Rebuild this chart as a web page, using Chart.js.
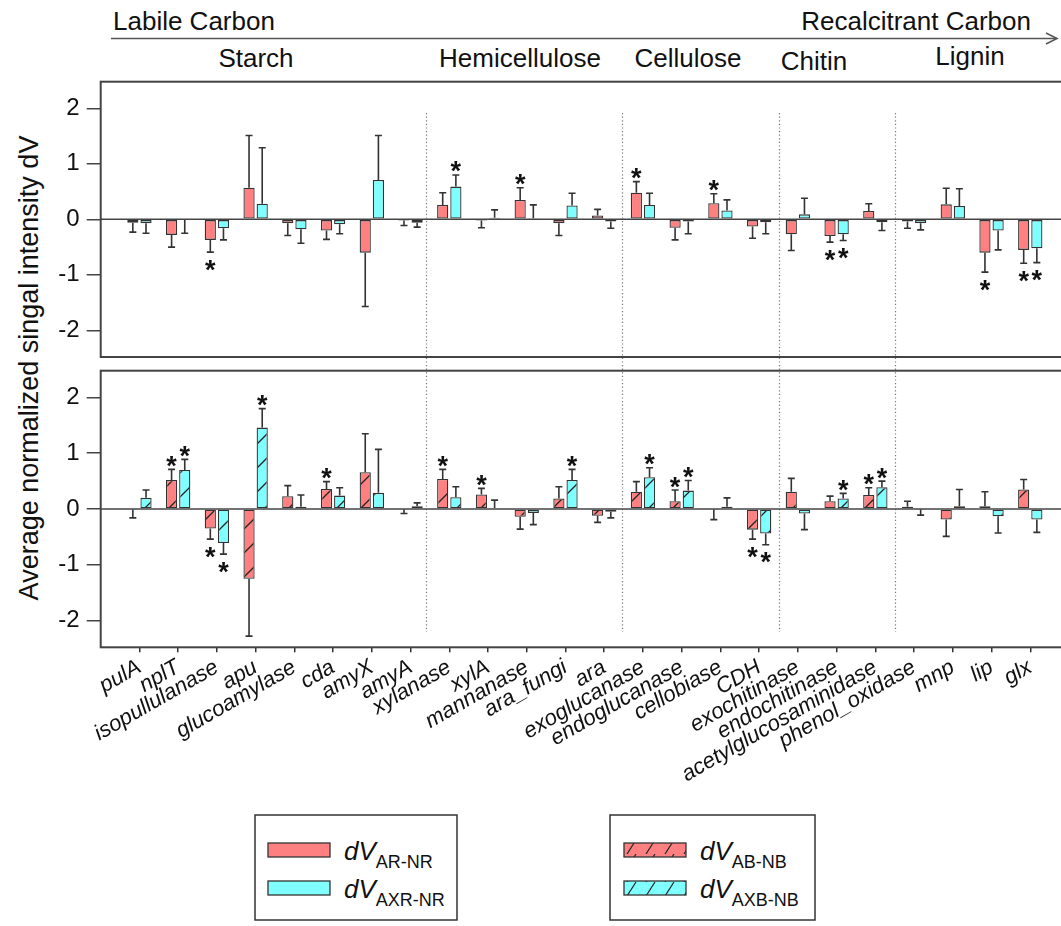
<!DOCTYPE html>
<html><head><meta charset="utf-8">
<script src="https://cdn.jsdelivr.net/npm/chart.js@4.4.1/dist/chart.umd.min.js"></script>
<style>
html,body{margin:0;padding:0;background:#fff;overflow:hidden;}
body{width:1061px;height:926px;position:relative;font-family:"Liberation Sans",Arial,sans-serif;}
canvas{position:absolute;left:0;}
#c1{top:70px;}
#c2{top:365px;}
#deco{position:absolute;left:0;top:0;}
</style></head><body>
<svg id="deco" width="1061" height="926" font-family="Liberation Sans, Arial, sans-serif" fill="#111">
  <defs>
    <pattern id="hR" x="624" y="0" width="19" height="14" patternUnits="userSpaceOnUse">
      <rect width="19" height="14" fill="#FF8080"/>
      <line x1="3" y1="14" x2="12" y2="0" stroke="#222" stroke-width="1.2"/>
    </pattern>
    <pattern id="hX" x="624" y="0" width="19" height="14" patternUnits="userSpaceOnUse">
      <rect width="19" height="14" fill="#80FFFF"/>
      <line x1="3" y1="14" x2="12" y2="0" stroke="#222" stroke-width="1.2"/>
    </pattern>
  </defs>
  <text x="113" y="30" font-size="26">Labile Carbon</text>
  <text x="1031" y="30" font-size="26" text-anchor="end">Recalcitrant Carbon</text>
  <line x1="111" y1="38.5" x2="1057" y2="38.5" stroke="#555" stroke-width="1.5"/>
  <polyline points="1046,33 1057,38.5 1046,44" fill="none" stroke="#555" stroke-width="1.5"/>
  <g font-size="26" text-anchor="middle">
    <text x="256" y="67">Starch</text>
    <text x="520" y="67">Hemicellulose</text>
    <text x="688" y="67">Cellulose</text>
    <text x="814" y="70">Chitin</text>
    <text x="970" y="65">Lignin</text>
  </g>
  <text transform="translate(38,368) rotate(-90)" font-size="27" text-anchor="middle">Average normalized singal intensity dV</text>

  <rect x="255" y="815" width="202" height="105" fill="none" stroke="#333" stroke-width="1.5"/>
  <rect x="268" y="843" width="62" height="14" fill="#FF8080" stroke="#333" stroke-width="1.3"/>
  <rect x="268" y="881" width="62" height="14" fill="#80FFFF" stroke="#333" stroke-width="1.3"/>
  <text x="344" y="860" font-size="26"><tspan font-style="italic">dV</tspan><tspan font-size="18" dy="8">AR-NR</tspan></text>
  <text x="344" y="898" font-size="26"><tspan font-style="italic">dV</tspan><tspan font-size="18" dy="8">AXR-NR</tspan></text>

  <rect x="610" y="815" width="205" height="105" fill="none" stroke="#333" stroke-width="1.5"/>
  <rect x="624" y="843" width="62" height="14" fill="url(#hR)" stroke="#333" stroke-width="1.3"/>
  <rect x="624" y="881" width="62" height="14" fill="url(#hX)" stroke="#333" stroke-width="1.3"/>
  <text x="700" y="860" font-size="26"><tspan font-style="italic">dV</tspan><tspan font-size="18" dy="8">AB-NB</tspan></text>
  <text x="700" y="898" font-size="26"><tspan font-style="italic">dV</tspan><tspan font-size="18" dy="8">AXB-NB</tspan></text>
</svg>
<canvas id="c1" width="1075" height="295"></canvas>
<canvas id="c2" width="1075" height="440"></canvas>
<script>
// ---------------- data ----------------
const categories = ['pulA','nplT','isopullulanase','apu','glucoamylase','cda','amyX','amyA',
  'xylanase','xylA','mannanase','ara_fungi','ara',
  'exoglucanase','endoglucanase','cellobiase','CDH',
  'exochitinase','endochitinase','acetylglucosaminidase',
  'phenol_oxidase','mnp','lip','glx'];
const yTickValues = [-2, -1, 0, 1, 2];
// boundaries between substrate groups (in category-index units)
const groupSeparators = [7.4, 12.45, 16.5, 19.5];

// upper panel: dV AR-NR (red) and dV AXR-NR (cyan)
const dV_AR_NR     = [-0.06,-0.28,-0.37, 0.57,-0.07,-0.20,-0.60,-0.02, 0.26,-0.02, 0.35,-0.07, 0.07, 0.48,-0.15, 0.29,-0.13,-0.27,-0.30, 0.15,-0.04, 0.27,-0.60,-0.55];
const dV_AR_NR_se  = [ 0.17, 0.22, 0.22, 0.94, 0.22, 0.16, 0.97, 0.09, 0.22, 0.13, 0.22, 0.22, 0.11, 0.20, 0.22, 0.17, 0.21, 0.29, 0.11, 0.13, 0.12, 0.29, 0.35, 0.24];
const dV_AR_NR_sig = [0,0,1,0,0,0,0,0, 0,0,1,0,0, 1,0,1,0, 0,1,0, 0,0,1,1];
const dV_AXR_NR     = [-0.07,-0.01,-0.16, 0.28,-0.18,-0.09, 0.71,-0.06, 0.59, 0.03, 0.02, 0.25,-0.04, 0.26,-0.04, 0.16,-0.05, 0.09,-0.27,-0.05,-0.07, 0.24,-0.20,-0.52];
const dV_AXR_NR_se  = [ 0.18, 0.24, 0.21, 1.01, 0.25, 0.17, 0.80, 0.08, 0.21, 0.14, 0.24, 0.22, 0.12, 0.21, 0.22, 0.19, 0.21, 0.29, 0.11, 0.15, 0.12, 0.31, 0.35, 0.26];
const dV_AXR_NR_sig = [0,0,0,0,0,0,0,0, 1,0,0,0,0, 0,0,0,0, 0,1,0, 0,0,0,1];

// lower panel: dV AB-NB (red, hatched) and dV AXB-NB (cyan, hatched)
const dV_AB_NB     = [-0.01, 0.52,-0.35,-1.25, 0.23, 0.36, 0.66,-0.01, 0.54, 0.26,-0.14, 0.19,-0.12, 0.31, 0.14,-0.01,-0.37, 0.31, 0.14, 0.25, 0.04,-0.19, 0.05, 0.35];
const dV_AB_NB_se  = [ 0.15, 0.19, 0.19, 1.03, 0.19, 0.13, 0.69, 0.07, 0.17, 0.11, 0.22, 0.21, 0.12, 0.18, 0.20, 0.18, 0.17, 0.24, 0.09, 0.13, 0.10, 0.30, 0.26, 0.18];
const dV_AB_NB_sig = [0,1,1,0,0,1,0,0, 1,1,0,0,0, 0,1,0,1, 0,0,1, 0,0,0,0];
const dV_AXB_NB     = [ 0.20, 0.70,-0.61, 1.46, 0.04, 0.24, 0.29, 0.05, 0.21, 0.02,-0.07, 0.52,-0.05, 0.57, 0.33, 0.04,-0.44,-0.08, 0.19, 0.39,-0.01, 0.05,-0.13,-0.19];
const dV_AXB_NB_se  = [ 0.14, 0.19, 0.20, 0.34, 0.21, 0.14, 0.78, 0.06, 0.19, 0.14, 0.21, 0.19, 0.11, 0.17, 0.18, 0.16, 0.20, 0.29, 0.09, 0.11, 0.10, 0.30, 0.30, 0.23];
const dV_AXB_NB_sig = [0,1,1,1,0,0,0,0, 0,0,0,1,0, 1,1,0,1, 0,1,1, 0,0,0,0];

// ---------------- helpers ----------------
const RED = '#FF8080', CYAN = '#80FFFF';
const paddedLabels = [''].concat(categories, ['']);
const pad = arr => [null].concat(arr, [null]);

function makeHatch(color){
  const P = 24, c = document.createElement('canvas');
  c.width = P; c.height = P;
  const g = c.getContext('2d');
  g.fillStyle = color; g.fillRect(0,0,P,P);
  g.strokeStyle = '#222'; g.lineWidth = 1.3;
  g.beginPath();
  g.moveTo(-2,P+2); g.lineTo(P+2,-2);
  g.moveTo(-3,3); g.lineTo(3,-3);
  g.moveTo(P-3,P+3); g.lineTo(P+3,P-3);
  g.stroke();
  return g.createPattern(c,'repeat');
}

function overlayPlugin(series, sepTop, sepBottom){
  return {
    id:'overlay',
    beforeDatasetsDraw(chart){
      const {ctx, scales:{x}} = chart;
      ctx.save();
      ctx.strokeStyle = '#777'; ctx.lineWidth = 1.2; ctx.setLineDash([1.2,2.4]);
      groupSeparators.forEach(s => {
        const px = Math.round(x.getPixelForValue(s + 1)) + 0.5;
        ctx.beginPath(); ctx.moveTo(px, sepTop); ctx.lineTo(px, sepBottom); ctx.stroke();
      });
      ctx.restore();
    },
    afterDatasetsDraw(chart){
      const {ctx, chartArea:a, scales:{y}} = chart;
      ctx.save();
      // zero line
      const y0 = y.getPixelForValue(0);
      ctx.strokeStyle = '#444'; ctx.lineWidth = 1.5;
      ctx.beginPath(); ctx.moveTo(a.left, y0); ctx.lineTo(a.right, y0); ctx.stroke();
      // error bars + asterisks
      series.forEach((s, d) => {
        const meta = chart.getDatasetMeta(d);
        s.values.forEach((v, i) => {
          const bar = meta.data[i + 1];
          if (!bar) return;
          const cx = bar.x;
          const dir = v < 0 ? -1 : 1;
          const yv = y.getPixelForValue(v);
          const ye = y.getPixelForValue(v + dir * s.se[i]);
          ctx.strokeStyle = '#333'; ctx.lineWidth = 1.6;
          ctx.beginPath();
          ctx.moveTo(cx, yv); ctx.lineTo(cx, ye);
          ctx.moveTo(cx - 3.5, ye); ctx.lineTo(cx + 3.5, ye);
          ctx.stroke();
          if (s.sig[i]) {
            const cy = ye + (dir < 0 ? 11 : -10);
            ctx.fillStyle = '#111';
            ctx.font = 'bold 27px "Liberation Sans", Arial, sans-serif';
            ctx.textAlign = 'center'; ctx.textBaseline = 'alphabetic';
            ctx.fillText('*', cx, cy + 15.5);
          }
        });
      });
      // panel box
      ctx.strokeStyle = '#444'; ctx.lineWidth = 2;
      ctx.strokeRect(a.left, a.top, a.right - a.left, a.bottom - a.top);
      ctx.restore();
    }
  };
}

function makeChart(id, series, o){
  return new Chart(document.getElementById(id), {
    type:'bar',
    data:{
      labels: paddedLabels,
      datasets: series.map(s => ({
        label: s.name,
        data: pad(s.values),
        backgroundColor: s.fill,
        borderColor:'#333', borderWidth:1.3, borderSkipped:false,
        categoryPercentage:0.68, barPercentage:0.85
      }))
    },
    options:{
      responsive:false, animation:false, devicePixelRatio:1,
      layout:{padding:{top:o.padTop, bottom:o.padBottom, left:0, right:6}},
      plugins:{legend:{display:false}, tooltip:{enabled:false}},
      scales:{
        x:{
          display:o.showX, offset:false,
          grid:{offset:false, drawOnChartArea:false, tickLength:5, lineWidth:1.5,
                color: c => (c.index === 0 || c.index === paddedLabels.length - 1) ? 'rgba(0,0,0,0)' : '#333'},
          border:{display:false},
          ticks:{autoSkip:false, maxRotation:30, minRotation:30, padding:2, color:'#111',
                 font:{family:'Liberation Sans', size:22, style:'italic'}},
          afterFit: s => { if (o.xHeight) s.height = o.xHeight; s.paddingLeft = 0; s.paddingRight = 0; }
        },
        y:{
          min:-2.48, max:2.48,
          grid:{drawOnChartArea:false, tickLength:14, lineWidth:1.5, color:'#444'},
          border:{display:false},
          ticks:{padding:7, color:'#111', font:{family:'Liberation Sans', size:24}, callback: v => String(v)},
          afterBuildTicks: s => { s.ticks = yTickValues.map(v => ({value:v})); },
          afterFit: s => { s.width = 100.7; s.paddingTop = 0; s.paddingBottom = 0; }
        }
      }
    },
    plugins:[overlayPlugin(series, o.sepTop, o.sepBottom)]
  });
}

const upperSeries = [
  {name:'dV AR-NR',  values:dV_AR_NR,  se:dV_AR_NR_se,  sig:dV_AR_NR_sig,  fill:RED},
  {name:'dV AXR-NR', values:dV_AXR_NR, se:dV_AXR_NR_se, sig:dV_AXR_NR_sig, fill:CYAN}
];
const lowerSeries = [
  {name:'dV AB-NB',  values:dV_AB_NB,  se:dV_AB_NB_se,  sig:dV_AB_NB_sig,  fill:makeHatch(RED)},
  {name:'dV AXB-NB', values:dV_AXB_NB, se:dV_AXB_NB_se, sig:dV_AXB_NB_sig, fill:makeHatch(CYAN)}
];

makeChart('c1', upperSeries, {padTop:11.7, padBottom:8, showX:false, sepTop:43, sepBottom:295});
makeChart('c2', lowerSeries, {padTop:5.7, padBottom:0, showX:true, xHeight:157.7, sepTop:0, sepBottom:267});
</script>
</body></html>
